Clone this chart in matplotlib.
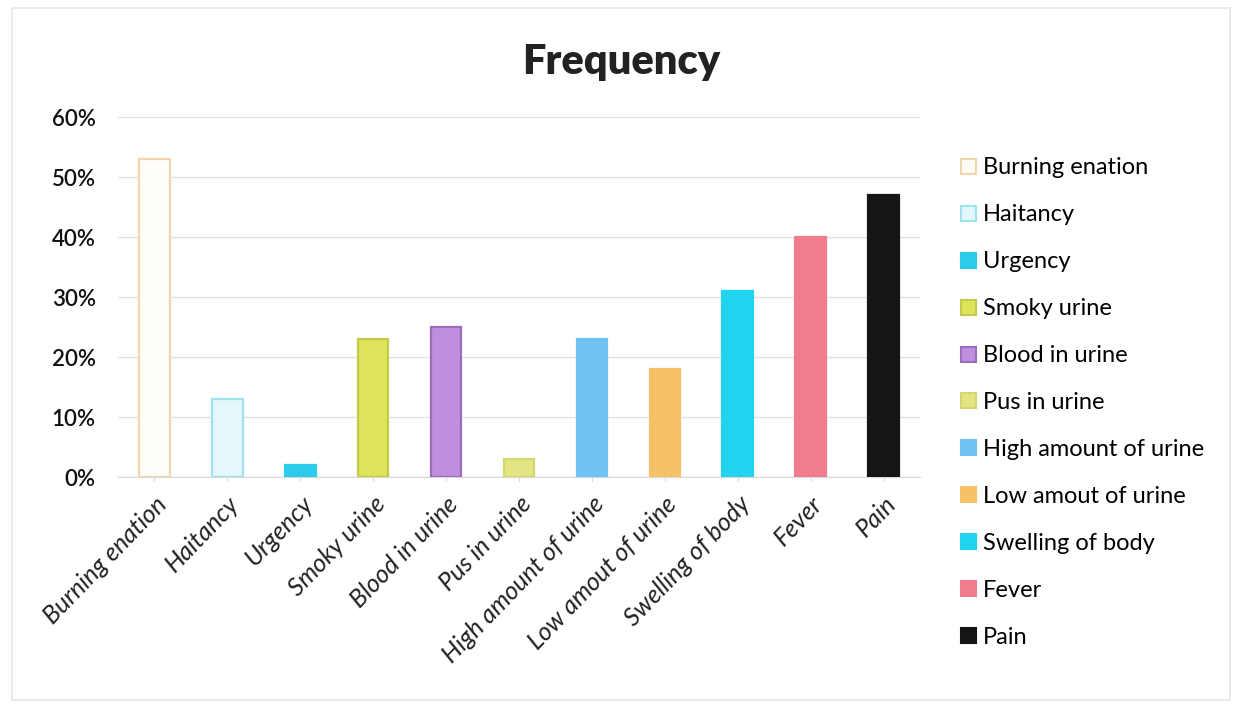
import matplotlib
matplotlib.use("Agg")
import matplotlib.pyplot as plt
from matplotlib.ticker import PercentFormatter
from matplotlib.patches import Rectangle

plt.rcParams['font.family'] = ['Lato', 'DejaVu Sans']

categories = ["Burning enation", "Haitancy", "Urgency", "Smoky urine",
              "Blood in urine", "Pus in urine", "High amount of urine",
              "Low amout of urine", "Swelling of body", "Fever", "Pain"]
values = [53, 13, 2, 23, 25, 3, 23, 18, 31, 40, 47]
fill_colors = ["#fffdf8", "#e4f7fb", "#2ccbe9", "#dde45a", "#bd8fdc",
               "#e3e585", "#70c2f2", "#f6c268", "#22d3f0", "#f07d8d", "#151515"]
edge_colors = ["#f2d6aa", "#9fe2ee", "#2ccbe9", "#c3c94a", "#9a6cbc",
               "#d4d670", "#70c2f2", "#f6c268", "#22d3f0", "#f07d8d", "#151515"]
y_ticks = [0, 10, 20, 30, 40, 50, 60]

fig = plt.figure(figsize=(12.39, 7.06), dpi=100)
ax = fig.add_axes([118 / 1239, 1 - 477 / 706, (920 - 118) / 1239, (477 - 117) / 706])

x = range(len(categories))
bars = ax.bar(x, values, width=0.42, color=fill_colors, edgecolor=edge_colors,
              linewidth=1.6, zorder=3)

ax.set_ylim(0, 60)
ax.set_xlim(-0.5, len(categories) - 0.5)
ax.set_yticks(y_ticks)
ax.yaxis.set_major_formatter(PercentFormatter(decimals=0))
ax.grid(axis='y', color='#e2e2e2', linewidth=1, zorder=0)
for s in ['top', 'right', 'left']:
    ax.spines[s].set_visible(False)
ax.spines['bottom'].set_color('#d8d8d8')
ax.tick_params(axis='y', length=0, labelsize=16, pad=16, labelcolor='#111111')
for lbl in ax.get_yticklabels():
    lbl.set_fontweight('semibold')
ax.tick_params(axis='x', length=3, color='#d8d8d8', labelsize=18, pad=8,
               labelcolor='#222222')
ax.set_xticks(list(x))
ax.set_xticklabels(categories, rotation=46, ha='right', rotation_mode='anchor')
for lbl in ax.get_xticklabels():
    lbl.set_fontstyle('italic')

fig.text(621 / 1239, 1 - 62 / 706, "Frequency", ha='center', va='center',
         fontsize=30, fontweight='heavy', color='#222222')

# legend with square swatches to the right of the plot
handles = [Rectangle((0, 0), 1, 1, facecolor=fc, edgecolor=ec, linewidth=1.5)
           for fc, ec in zip(fill_colors, edge_colors)]
fig.legend(handles, categories, loc='upper left',
           bbox_to_anchor=(952 / 1239, 1 - 148 / 706), frameon=False,
           fontsize=17, handlelength=0.6, handleheight=0.6,
           handletextpad=0.3, labelspacing=1.1, borderaxespad=0)

# faint outer frame of the chart area
fig.add_artist(Rectangle((12 / 1239, 1 - 700 / 706), (1230 - 12) / 1239, (700 - 8) / 706,
                         transform=fig.transFigure, fill=False,
                         edgecolor='#e6e6e6', linewidth=1.2))

fig.savefig("out.png", dpi=100, facecolor='white')
